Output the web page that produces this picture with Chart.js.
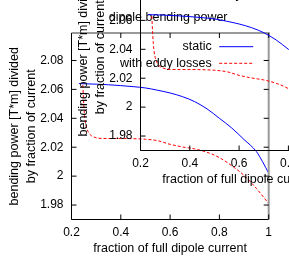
<!DOCTYPE html>
<html>
<head>
<meta charset="utf-8">
<script src="https://cdn.jsdelivr.net/npm/chart.js@4.4.0/dist/chart.umd.min.js"></script>
<style>
  html, body { margin: 0; padding: 0; background: #fff; overflow: hidden; }
  #wrap { position: relative; width: 289px; height: 279px; overflow: hidden; }
  canvas { position: absolute; }
  #main { left: 0; top: 0; }
  #copy { left: 69px; top: -69px; }
</style>
</head>
<body>
<div id="wrap">
  <canvas id="main" width="289" height="279"></canvas>
  <canvas id="copy" width="289" height="279"></canvas>
</div>
<script>
// values
const staticX = [0.23, 0.3, 0.35, 0.4, 0.45, 0.5, 0.55, 0.6, 0.65, 0.7, 0.75, 0.8, 0.85, 0.9, 0.95, 0.975, 1.0];
const staticY = [2.0640, 2.0636, 2.0632, 2.0626, 2.0619, 2.0610, 2.0594, 2.0575, 2.0550, 2.0515, 2.0465, 2.0400, 2.0333, 2.0253, 2.0170, 2.0100, 2.0020];

const eddyX = [0.246, 0.249, 0.252, 0.256, 0.262, 0.27, 0.28, 0.295, 0.31, 0.35, 0.4, 0.45, 0.5, 0.55, 0.6, 0.65, 0.7, 0.75, 0.8, 0.85, 0.9, 0.95, 1.0];
const eddyY = [2.063, 2.052, 2.0438, 2.0375, 2.033, 2.030, 2.028, 2.0268, 2.0262, 2.0260, 2.0260, 2.0259, 2.0255, 2.0245, 2.0220, 2.0202, 2.0188, 2.0165, 2.0128, 2.0072, 2.0005, 1.9915, 1.9810];

const seriesNames = ['static', 'with eddy losses'];
const xTicks = [0.2, 0.4, 0.6, 0.8, 1.0];
const yTicks = [1.98, 2.0, 2.02, 2.04, 2.06, 2.08];
const titleText = 'dipole bending power';
const xTitle = 'fraction of full dipole current';
const yTitle = ['bending power [T*m] divided', 'by fraction of current'];

const FONT = '"Liberation Sans", Arial, sans-serif';
Chart.defaults.font.family = FONT;
Chart.defaults.color = '#000';

// gnuplot-ish frame: inward ticks, mirrored ticks, key inside, title on top
const gnuplotFrame = {
  id: 'gnuplotFrame',
  afterDraw(chart) {
    const { ctx, chartArea: a, scales: { x, y } } = chart;
    const tl = 5;
    ctx.save();

    ctx.strokeStyle = '#000';
    ctx.lineWidth = 1;
    ctx.beginPath();
    ctx.moveTo(a.left, a.top);
    ctx.lineTo(a.left, a.bottom);
    ctx.lineTo(a.right, a.bottom);
    ctx.stroke();

    ctx.strokeStyle = '#999';
    ctx.lineWidth = 2;
    ctx.beginPath();
    ctx.moveTo(a.left, a.top);
    ctx.lineTo(a.right, a.top);
    ctx.lineTo(a.right, a.bottom);
    ctx.stroke();

    ctx.strokeStyle = '#000';
    ctx.lineWidth = 1;
    ctx.beginPath();
    yTicks.forEach(v => {
      const py = y.getPixelForValue(v);
      ctx.moveTo(a.left, py); ctx.lineTo(a.left + tl, py);
      ctx.moveTo(a.right, py); ctx.lineTo(a.right - tl, py);
    });
    xTicks.forEach(v => {
      const px = x.getPixelForValue(v);
      ctx.moveTo(px, a.bottom); ctx.lineTo(px, a.bottom - tl);
      ctx.moveTo(px, a.top); ctx.lineTo(px, a.top + tl);
    });
    ctx.stroke();

    // key
    ctx.font = '12.5px ' + FONT;
    ctx.fillStyle = '#000';
    ctx.textAlign = 'right';
    ctx.textBaseline = 'middle';
    chart.data.datasets.forEach((ds, i) => {
      const ky = a.top + 13.7 + i * 16.6;
      ctx.fillText(ds.label, a.right - 57, ky);
      ctx.strokeStyle = ds.borderColor;
      ctx.lineWidth = 1;
      ctx.setLineDash(ds.borderDash || []);
      ctx.beginPath();
      ctx.moveTo(a.right - 49.5, ky);
      ctx.lineTo(a.right - 15.5, ky);
      ctx.stroke();
      ctx.setLineDash([]);
    });

    ctx.textAlign = 'center';
    ctx.fillText(titleText, (a.left + a.right) / 2 - 2, a.top - 15.5);
    ctx.restore();
  }
};

function makeConfig() {
  return {
    type: 'line',
    data: {
      datasets: [{
        label: seriesNames[0],
        data: staticX.map((v, i) => ({ x: v, y: staticY[i] })),
        borderColor: '#0000ff',
        borderWidth: 1,
        pointRadius: 0,
        cubicInterpolationMode: 'monotone',
        fill: false
      }, {
        label: seriesNames[1],
        data: eddyX.map((v, i) => ({ x: v, y: eddyY[i] })),
        borderColor: '#ff0000',
        borderWidth: 1,
        borderDash: [3, 2],
        pointRadius: 0,
        cubicInterpolationMode: 'monotone',
        fill: false
      }]
    },
    options: {
      responsive: false,
      animation: false,
      events: [],
      layout: { padding: { left: 0, right: 20.3, top: 33, bottom: 0 } },
      plugins: { legend: { display: false }, title: { display: false }, tooltip: { enabled: false } },
      scales: {
        x: {
          type: 'linear',
          min: 0.2,
          max: 1.0,
          grid: { display: false, drawTicks: false },
          border: { display: false },
          afterBuildTicks: s => { s.ticks = xTicks.map(v => ({ value: v })); },
          afterFit: s => { s.height = 59.5; },
          ticks: { padding: 6, autoSkip: false, maxRotation: 0, font: { size: 12 },
                   callback: v => String(+v.toFixed(2)) },
          title: { display: true, text: xTitle, font: { size: 12.5 }, padding: { top: 0, bottom: 23 } }
        },
        y: {
          min: 1.97,
          max: 2.099,
          grid: { display: false, drawTicks: false },
          border: { display: false },
          afterBuildTicks: s => { s.ticks = yTicks.map(v => ({ value: v })); },
          afterFit: s => { s.width = 71.5; },
          ticks: { padding: 8, font: { size: 12 },
                   callback: v => String(+v.toFixed(2)) },
          title: { display: true, text: yTitle, font: { size: 12.5, lineHeight: 1.33 }, padding: { top: 6.7, bottom: 0 } }
        }
      }
    },
    plugins: [gnuplotFrame]
  };
}

new Chart(document.getElementById('main'), makeConfig());
new Chart(document.getElementById('copy'), makeConfig());
</script>
</body>
</html>
